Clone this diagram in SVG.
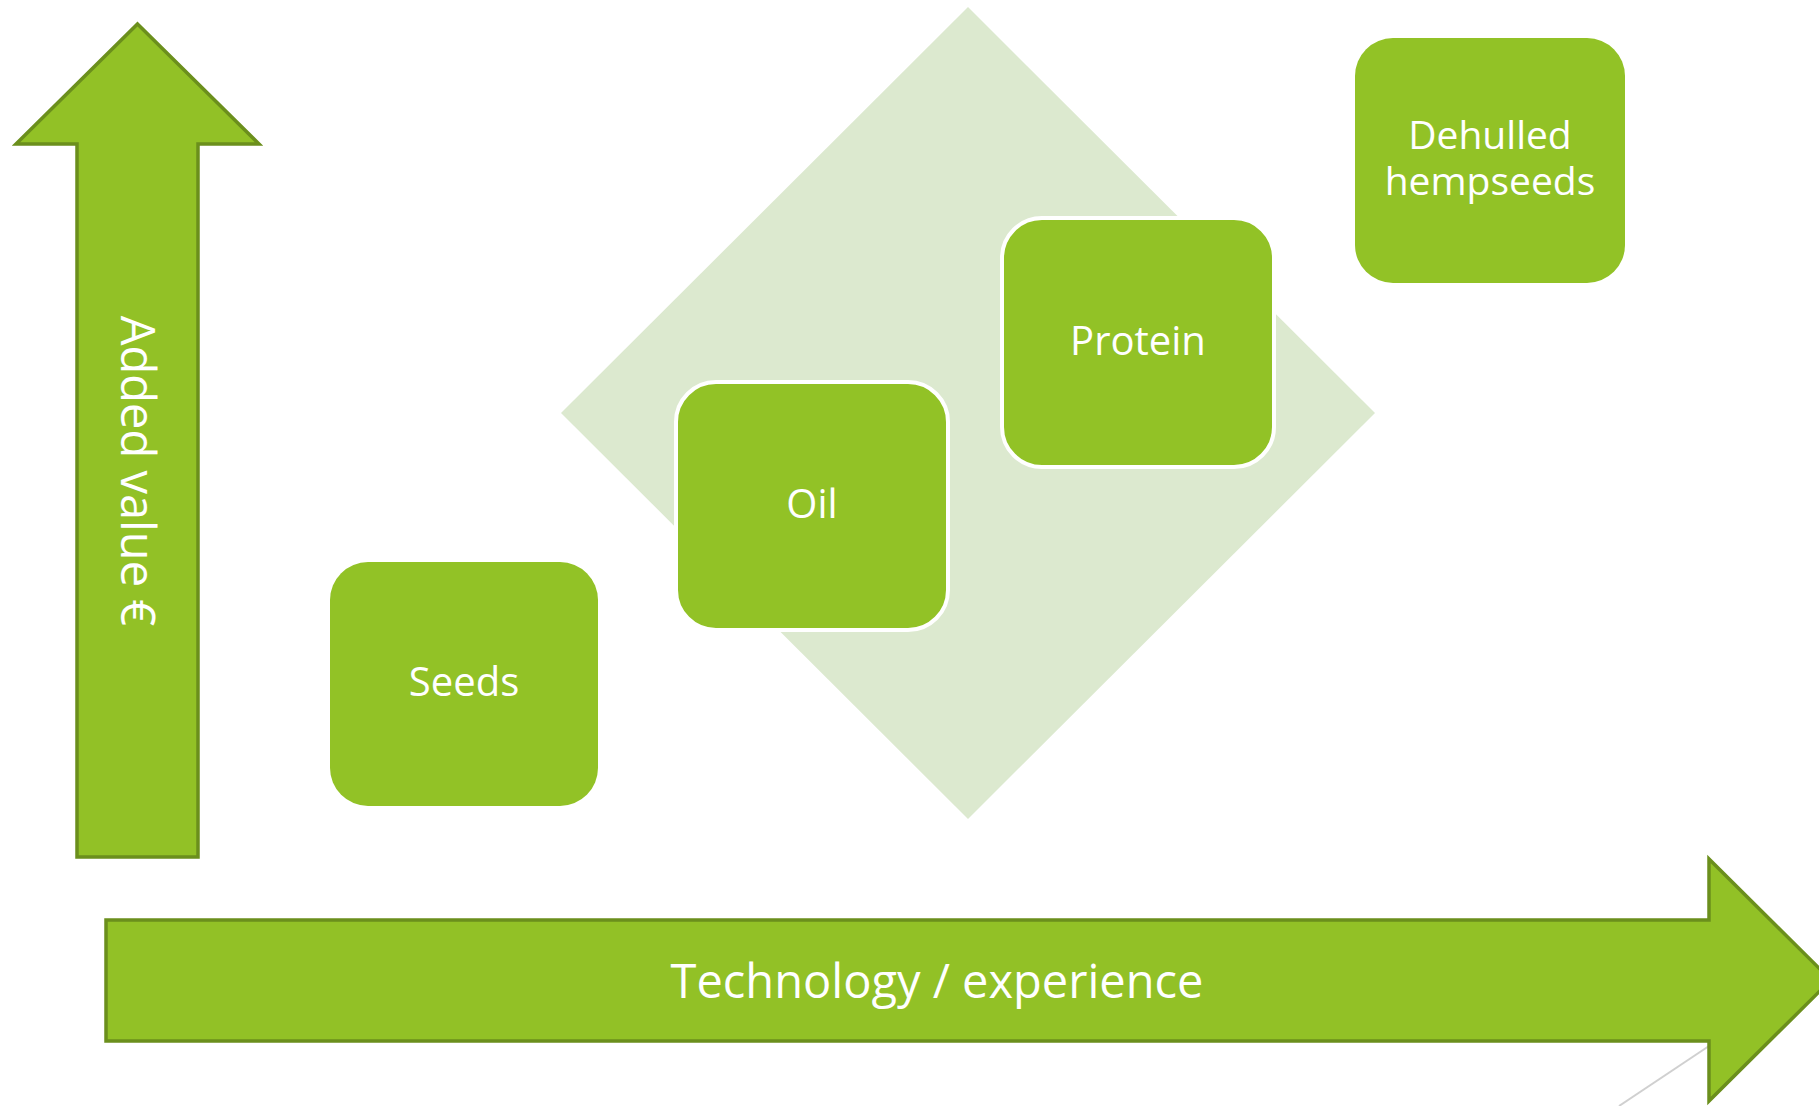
<svg xmlns="http://www.w3.org/2000/svg" width="1819" height="1106" viewBox="0 0 1819 1106">
<style>
.arrow{fill:#92C126;stroke:#6B8F1C;stroke-width:3.5;stroke-linejoin:miter}
.box{fill:#92C226}
.boxw{fill:#92C226;stroke:#FFFFFF;stroke-width:4}
.lbl{font-family:"Open Sans","DejaVu Sans",sans-serif;font-size:40px;fill:#FFFFFF;text-anchor:middle}
.lbl2{font-family:"Open Sans","DejaVu Sans",sans-serif;font-size:39px;fill:#FFFFFF;text-anchor:middle}
.big{font-family:"Open Sans","DejaVu Sans",sans-serif;font-size:47px;fill:#FFFFFF;text-anchor:middle}
</style>
<rect width="1819" height="1106" fill="#FFFFFF"/>
<g id="diamond">
<polygon points="968,7 1375,413 968,819 561,413" fill="#DCE9CF"/>
</g>
<g id="connectors">
<line x1="1709" y1="1046" x2="1619" y2="1106" stroke="#D0D0D0" stroke-width="2"/>
</g>
<g id="arrow-up">
<polygon class="arrow" points="137.5,24 259,144 198,144 198,857 77,857 77,144 16,144"/>
<text class="big" transform="translate(121,471) rotate(90)" x="0" y="0">Added value €</text>
</g>
<g id="arrow-right">
<polygon class="arrow" points="106,920 1709,920 1709,859 1831,980 1709,1101 1709,1041 106,1041"/>
<text class="big" x="937" y="998">Technology / experience</text>
</g>
<g id="seeds">
<rect class="box" x="330" y="562" width="268" height="244" rx="38" ry="38"/>
<text class="lbl" x="464" y="696">Seeds</text>
</g>
<g id="oil">
<rect class="boxw" x="676" y="382" width="272" height="248" rx="40" ry="40"/>
<text class="lbl" x="812" y="518">Oil</text>
</g>
<g id="protein">
<rect class="boxw" x="1002" y="218" width="272" height="249" rx="40" ry="40"/>
<text class="lbl" x="1138" y="355">Protein</text>
</g>
<g id="dehulled">
<rect class="box" x="1355" y="38" width="270" height="245" rx="38" ry="38"/>
<text class="lbl2" x="1490" y="149">Dehulled</text>
<text class="lbl2" x="1490" y="195">hempseeds</text>
</g>
</svg>
